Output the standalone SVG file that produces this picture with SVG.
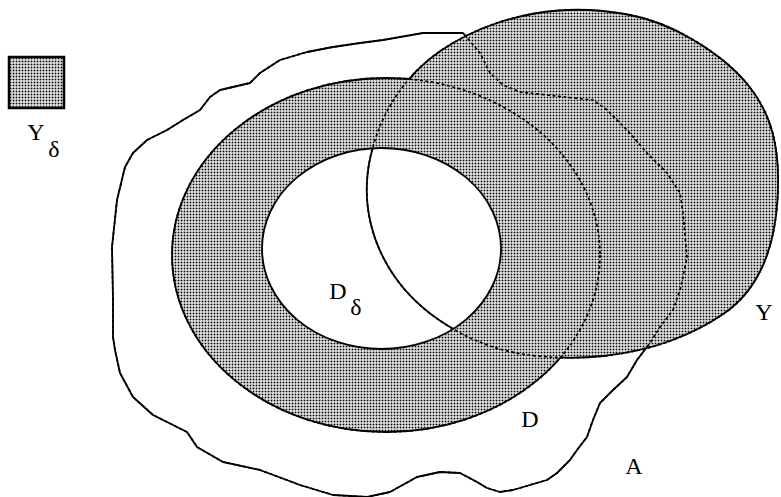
<svg xmlns="http://www.w3.org/2000/svg" xmlns:xlink="http://www.w3.org/1999/xlink" width="781" height="497" viewBox="0 0 781 497">
<style>
.line{fill:none;stroke:#000;stroke-width:1.8;stroke-linejoin:round;stroke-linecap:round}
.dash{fill:none;stroke:#000;stroke-width:1.7;stroke-dasharray:3 2.5}
.lbl{font-family:"Liberation Serif","DejaVu Serif",serif;font-size:24px;fill:#000;text-anchor:middle}
</style>
<defs>
<pattern id="dots" width="3" height="3" patternUnits="userSpaceOnUse">
<rect width="3" height="3" fill="#fff"/>
<rect x="0.6" y="0.6" width="1.8" height="1.8" fill="#000"/>
</pattern>
<ellipse id="shD" cx="386" cy="255" rx="214" ry="177"/>
<ellipse id="shDd" cx="381.5" cy="248.5" rx="119.5" ry="100.5"/>
<path id="shY" d="M558.5,10.5 Q590,8 625,14 Q660,20 693.5,40 Q727,60 746,82.5 Q765,105 772.5,132.5 Q780,160 777.5,200 Q775,240 761.5,268.5 Q748,297 724,313.5 Q700,330 670,341 Q640,352 603.5,356 Q567,360 528.5,355 Q490,350 455,330 Q420,310 399,282.5 Q378,255 370.5,222.5 Q363,190 370.5,156.5 Q378,123 396.5,95.5 Q415,68 441,50.5 Q467,33 497,23 Q527,13 558.5,10.5 Z"/>
<path id="shA" d="M383,40 L423,33 L463,33 L480,53 L490,73 L503,85 L520,92 L547,95 L573,98 L593,100 L607,110 L627,130 L647,153 L667,173 L680,193 L683,213 L687,257 L683,277 L680,290 L673,310 L660,327 L650,343 L637,360 L627,377 L613,390 L600,403 L593,420 L587,437 L577,450 L570,460 L557,473 L547,480 L530,485 L513,490 L500,492 L487,488 L477,482 L460,473 L440,472 L417,477 L390,492 L367,497 L333,495 L300,485 L260,470 L223,462 L197,447 L187,432 L173,425 L153,415 L133,397 L120,373 L115,350 L113,337 L113,300 L112,247 L117,200 L125,167 L133,153 L147,140 L167,130 L183,120 L200,110 L210,97 L220,90 L250,83 L260,73 L280,60 L307,52 L333,47 L360,43 Z"/>
<mask id="mOutDY" maskUnits="userSpaceOnUse" x="0" y="0" width="781" height="497">
<rect width="781" height="497" fill="#fff"/>
<use xlink:href="#shD" fill="#000"/>
<use xlink:href="#shY" fill="#000"/>
</mask>
<mask id="mOutY" maskUnits="userSpaceOnUse" x="0" y="0" width="781" height="497">
<rect width="781" height="497" fill="#fff"/>
<use xlink:href="#shY" fill="#000"/>
</mask>
<mask id="mOutRing" maskUnits="userSpaceOnUse" x="0" y="0" width="781" height="497">
<rect width="781" height="497" fill="#fff"/>
<use xlink:href="#shD" fill="#000"/>
<use xlink:href="#shDd" fill="#fff"/>
</mask>
</defs>
<rect width="781" height="497" fill="#fff"/>
<g id="shading">
<use xlink:href="#shD" fill="url(#dots)"/>
<use xlink:href="#shY" fill="url(#dots)"/>
<use xlink:href="#shDd" fill="#fff"/>
</g>
<g id="A">
<use xlink:href="#shA" class="dash"/>
<use xlink:href="#shA" class="line" mask="url(#mOutDY)"/>
<text class="lbl" x="634" y="474">A</text>
</g>
<g id="D">
<use xlink:href="#shD" class="dash"/>
<use xlink:href="#shD" class="line" mask="url(#mOutY)"/>
<text class="lbl" x="530" y="427">D</text>
</g>
<g id="Y">
<use xlink:href="#shY" class="dash"/>
<use xlink:href="#shY" class="line" mask="url(#mOutRing)"/>
<text class="lbl" x="764" y="320">Y</text>
</g>
<g id="D_delta">
<use xlink:href="#shDd" class="line"/>
<text class="lbl" x="338" y="299">D<tspan x="356" y="315">δ</tspan></text>
</g>
<g id="Y_delta">
<rect x="9" y="57" width="55" height="51" fill="url(#dots)" stroke="#000" stroke-width="2.5"/>
<text class="lbl" x="36" y="140">Y<tspan x="54" y="157">δ</tspan></text>
</g>
<g id="connectors"/>
</svg>
